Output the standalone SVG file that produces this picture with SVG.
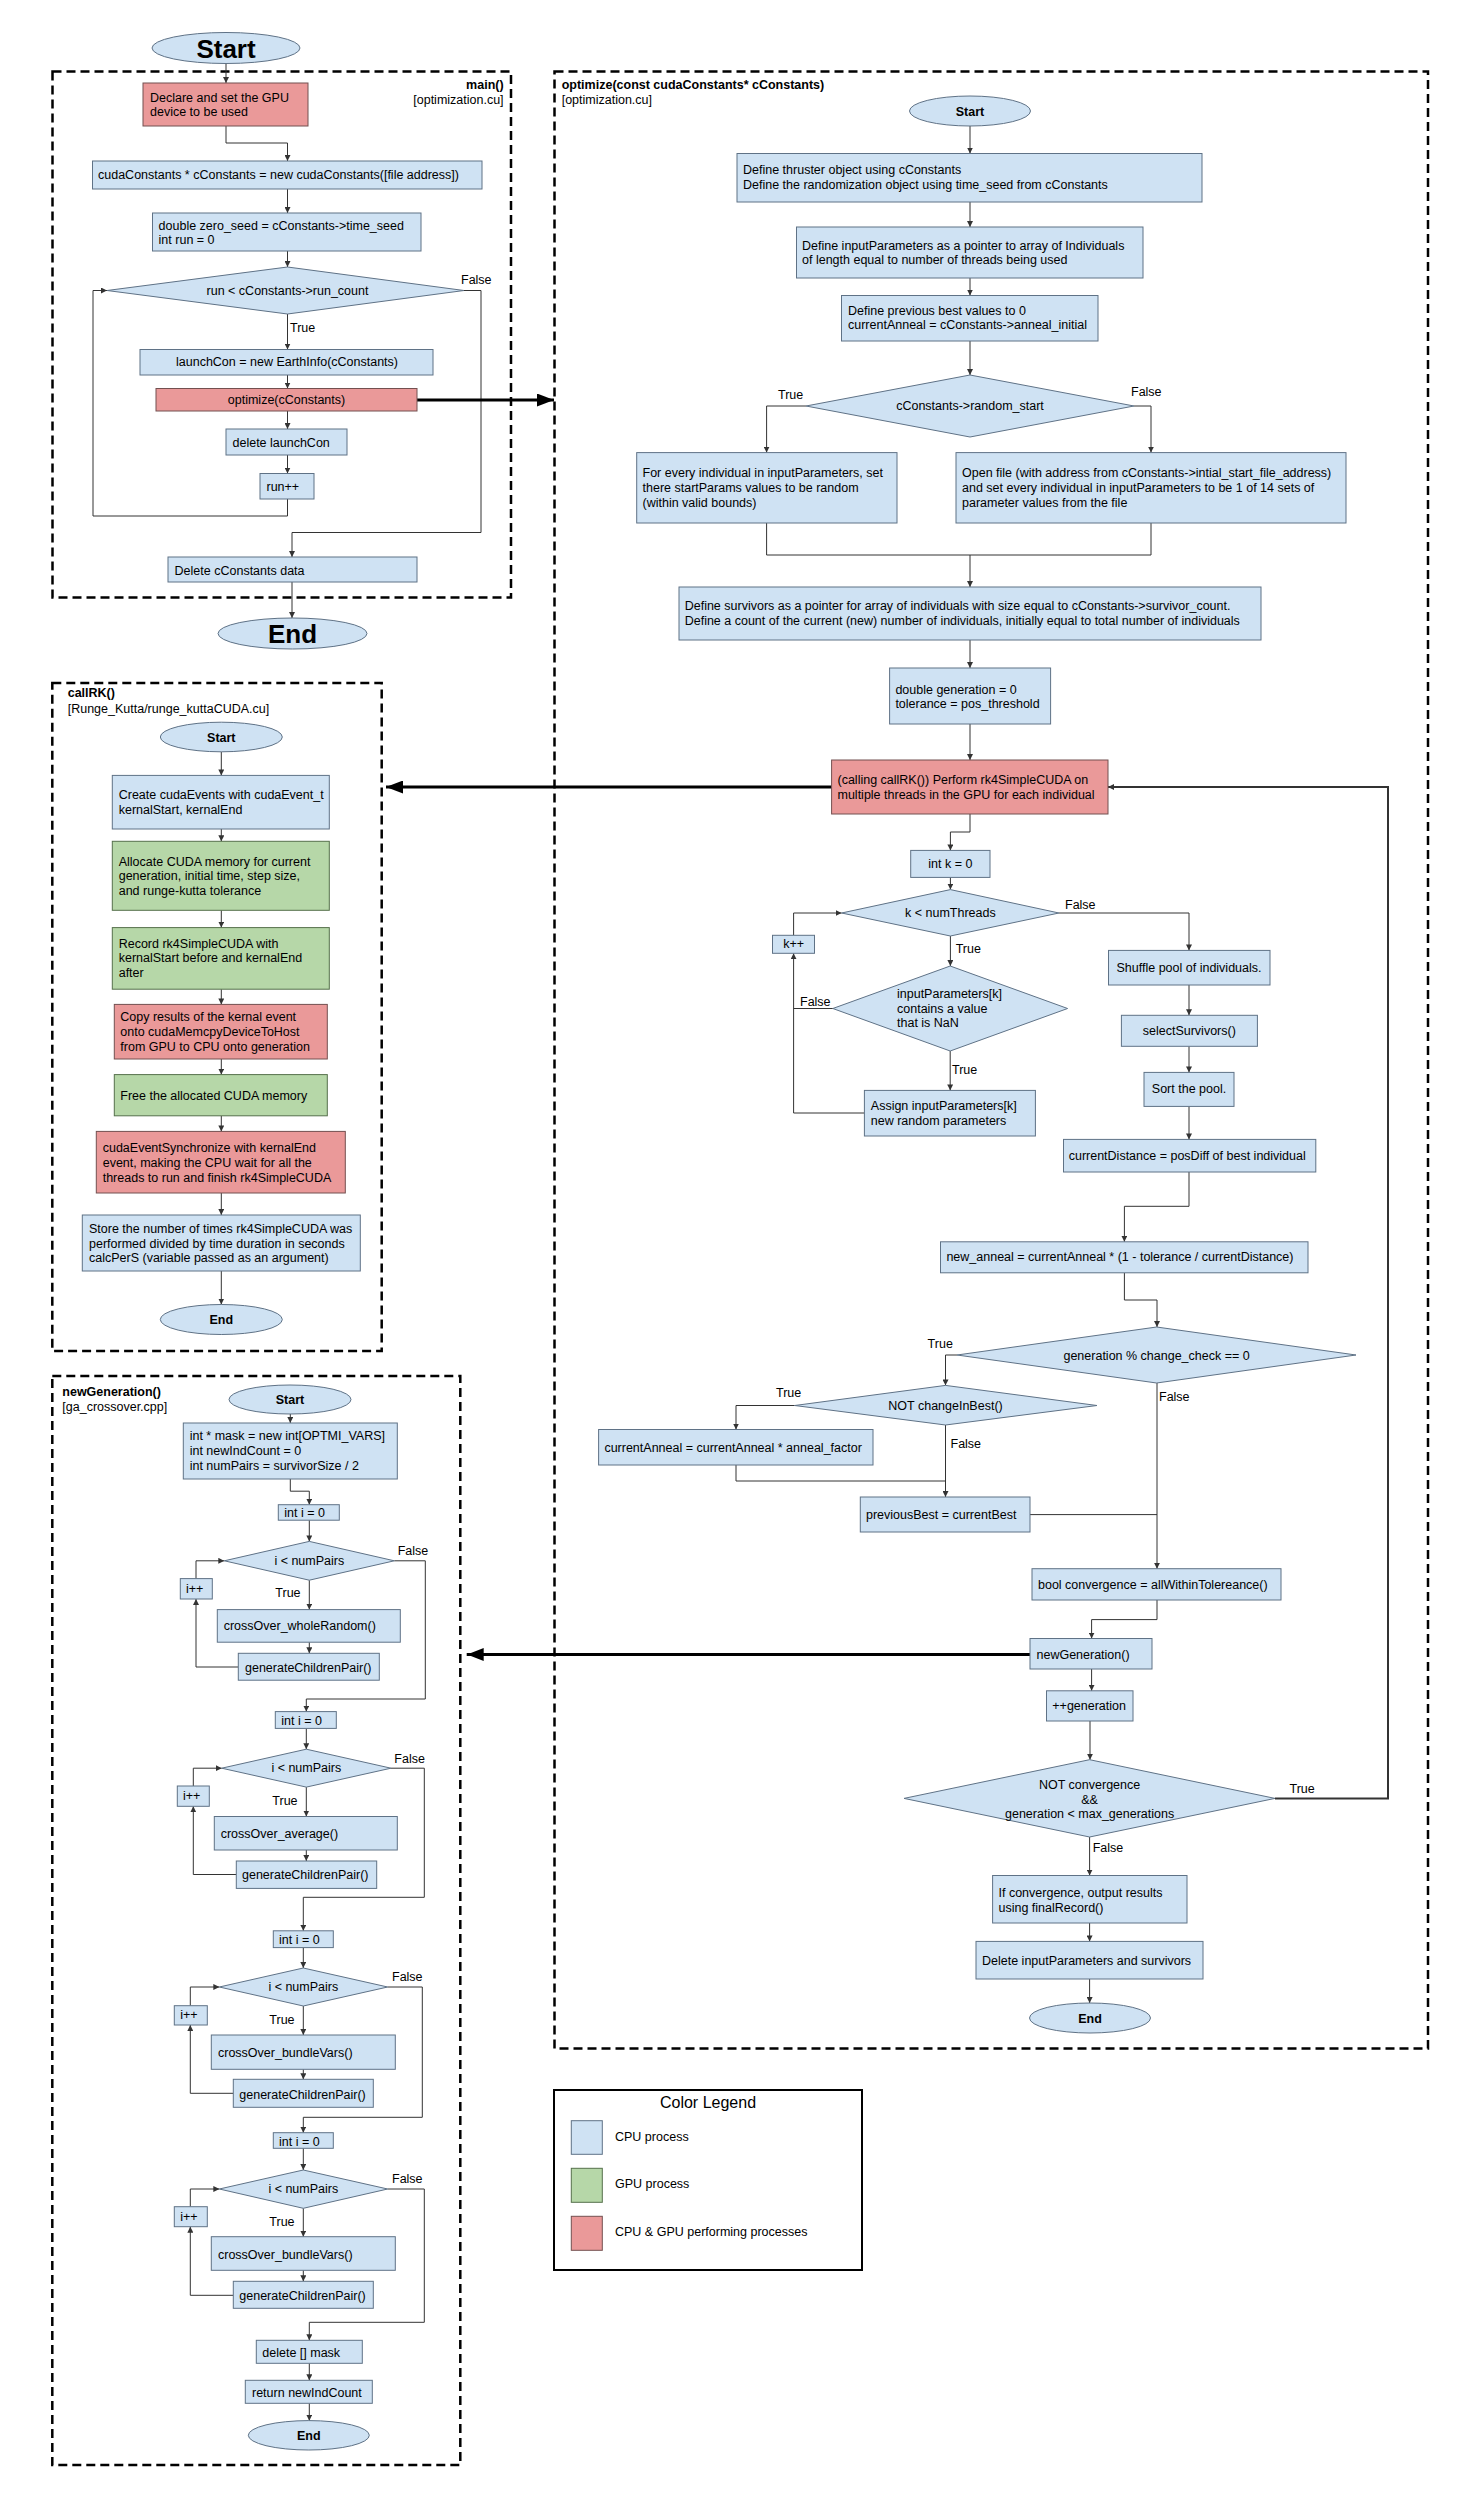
<svg xmlns="http://www.w3.org/2000/svg" width="1468" height="2500" viewBox="0 0 1468 2500">
<defs>
<style>
.cpu{fill:#cfe2f3;stroke:#5f7286;stroke-width:1}
.gpu{fill:#b6d7a8;stroke:#56704c;stroke-width:1}
.both{fill:#ea9999;stroke:#735050;stroke-width:1}
.frame{fill:none;stroke:#000;stroke-width:2.5;stroke-dasharray:9 5}
.c{fill:none;stroke:#333;stroke-width:1}
.thick{fill:none;stroke:#000;stroke-width:3}
text{font-family:"Liberation Sans",Arial,sans-serif;font-size:12.5px;fill:#000}
.m{text-anchor:middle}
.e{text-anchor:end}
.b{font-weight:bold}
.big{font-size:26px;font-weight:bold}
.lg{font-size:16px}
</style>
<marker id="a" markerUnits="userSpaceOnUse" markerWidth="6" markerHeight="6" refX="6" refY="3" orient="auto"><path d="M0,0 L6,3 L0,6 z" fill="#333"/></marker>
<marker id="A" markerUnits="userSpaceOnUse" markerWidth="17" markerHeight="13" refX="17" refY="6.5" orient="auto"><path d="M0,0 L17,6.5 L0,13 z" fill="#000"/></marker>
</defs>
<rect width="1468" height="2500" fill="#fff"/>

<!-- containers -->
<g id="main_frame">
<rect class="frame" x="52.5" y="71.5" width="458.5" height="526"/>
<text class="b e" x="503.6" y="89">main()</text>
<text class="e" x="503.6" y="104">[optimization.cu]</text>
</g>
<g id="optimize_frame">
<rect class="frame" x="554.5" y="71.5" width="873.5" height="1977"/>
<text class="b" x="561.7" y="89.4">optimize(const cudaConstants* cConstants)</text>
<text x="561.7" y="104">[optimization.cu]</text>
</g>
<g id="callRK_frame">
<rect class="frame" x="52.3" y="683" width="329.4" height="668"/>
<text class="b" x="67.7" y="697.3">callRK()</text>
<text x="67.7" y="712.5">[Runge_Kutta/runge_kuttaCUDA.cu]</text>
</g>
<g id="newGeneration_frame">
<rect class="frame" x="52.3" y="1376" width="408" height="1089"/>
<text class="b" x="62.3" y="1396">newGeneration()</text>
<text x="62.3" y="1410.8">[ga_crossover.cpp]</text>
</g>

<!-- connectors -->
<g id="connectors">
<path class="c" marker-end="url(#a)" d="M226,63 V83"/>
<path class="c" marker-end="url(#a)" d="M226,126 V143 H287.5 V161"/>
<path class="c" marker-end="url(#a)" d="M287.5,189 V213"/>
<path class="c" marker-end="url(#a)" d="M287.5,251 V267"/>
<path class="c" marker-end="url(#a)" d="M287.5,314 V349.5"/>
<path class="c" marker-end="url(#a)" d="M287.5,375 V388.5"/>
<path class="c" marker-end="url(#a)" d="M287.5,411 V429"/>
<path class="c" marker-end="url(#a)" d="M287.5,455 V473.5"/>
<path class="c" marker-end="url(#a)" d="M287.5,499 V516 H93 V290.5 H107"/>
<path class="c" marker-end="url(#a)" d="M464,290.5 H481 V532.5 H292 V557"/>
<path class="c" marker-end="url(#a)" d="M292,582 V618"/>
<path class="thick" marker-end="url(#A)" d="M417,400 H554"/>
<text x="290" y="332">True</text>
<text x="461" y="284">False</text>

<path class="c" marker-end="url(#a)" d="M970,126 V153.5"/>
<path class="c" marker-end="url(#a)" d="M970,202 V227"/>
<path class="c" marker-end="url(#a)" d="M970,278 V295.5"/>
<path class="c" marker-end="url(#a)" d="M970,341 V375"/>
<path class="c" marker-end="url(#a)" d="M806,406 H766.6 V452.6"/>
<path class="c" marker-end="url(#a)" d="M1134,406 H1151 V452.6"/>
<path class="c" d="M766.6,523 V555 H1151 V523"/>
<path class="c" marker-end="url(#a)" d="M970,555 V587"/>
<path class="c" marker-end="url(#a)" d="M970,640 V668"/>
<path class="c" marker-end="url(#a)" d="M970,724 V760"/>
<path class="c" marker-end="url(#a)" d="M970,814 V832 H950.4 V850.4"/>
<path class="c" marker-end="url(#a)" d="M950.4,877.3 V889.6"/>
<path class="c" marker-end="url(#a)" d="M950.4,936 V966"/>
<path class="c" marker-end="url(#a)" d="M1059,913 H1189 V950.4"/>
<path class="c" marker-end="url(#a)" d="M793.6,935.3 V913 H841.6"/>
<path class="c" d="M832.8,1008.5 H793.6"/>
<path class="c" marker-end="url(#a)" d="M864.4,1113 H793.6 V953.3"/>
<path class="c" marker-end="url(#a)" d="M950.2,1051 V1090.4"/>
<path class="c" marker-end="url(#a)" d="M1189,985 V1015.3"/>
<path class="c" marker-end="url(#a)" d="M1189,1046.3 V1072.4"/>
<path class="c" marker-end="url(#a)" d="M1189,1106.3 V1139.4"/>
<path class="c" marker-end="url(#a)" d="M1189,1172 V1206.3 H1124.4 V1241.8"/>
<path class="c" marker-end="url(#a)" d="M1124.4,1273 V1300 H1157 V1327"/>
<path class="c" marker-end="url(#a)" d="M957,1355 H945.5 V1385.4"/>
<path class="c" marker-end="url(#a)" d="M1157,1383 V1568.7"/>
<path class="c" marker-end="url(#a)" d="M794.7,1405.5 H736 V1429.5"/>
<path class="c" marker-end="url(#a)" d="M945.5,1425 V1497"/>
<path class="c" d="M736,1465 V1481 H945.5"/>
<path class="c" d="M1030,1514.6 H1157"/>
<path class="c" marker-end="url(#a)" d="M1157,1600 V1619.6 H1091.6 V1638.5"/>
<path class="c" marker-end="url(#a)" d="M1091.6,1669 V1690.8"/>
<path class="c" marker-end="url(#a)" d="M1090,1721 V1759.7"/>
<path class="c" marker-end="url(#a)" d="M1089.6,1837 V1875.5"/>
<path class="c" marker-end="url(#a)" d="M1089.6,1923 V1941.4"/>
<path class="c" marker-end="url(#a)" d="M1089.6,1979 V2003"/>
<path class="c" style="stroke-width:2" marker-end="url(#a)" d="M1275,1798.4 H1388 V787 H1108"/>
<path class="thick" marker-end="url(#A)" d="M831.6,787 H386"/>
<path class="thick" marker-end="url(#A)" d="M1030,1654.5 H466.7"/>
<text x="778" y="399">True</text>
<text x="1131" y="395.5">False</text>
<text x="955.7" y="953">True</text>
<text x="1065" y="909">False</text>
<text x="800" y="1005.5">False</text>
<text x="952" y="1073.7">True</text>
<text x="927.6" y="1348">True</text>
<text x="1159" y="1401.4">False</text>
<text x="776" y="1396.6">True</text>
<text x="950.5" y="1448">False</text>
<text x="1289.5" y="1792.6">True</text>
<text x="1092.7" y="1852">False</text>

<path class="c" marker-end="url(#a)" d="M221.3,751.8 V775.4"/>
<path class="c" marker-end="url(#a)" d="M221.3,829 V841.3"/>
<path class="c" marker-end="url(#a)" d="M221.3,910.3 V927.6"/>
<path class="c" marker-end="url(#a)" d="M221.3,989.2 V1004.4"/>
<path class="c" marker-end="url(#a)" d="M221.3,1059 V1074.6"/>
<path class="c" marker-end="url(#a)" d="M221.3,1115.8 V1131.4"/>
<path class="c" marker-end="url(#a)" d="M221.3,1193 V1215"/>
<path class="c" marker-end="url(#a)" d="M221.3,1271 V1304.5"/>

<path class="c" marker-end="url(#a)" d="M290.3,1414 V1423"/>
<path class="c" marker-end="url(#a)" d="M290.3,1479 V1491.2 H309.3 V1504.7"/>
<path class="c" marker-end="url(#a)" d="M309.3,1520.2 V1541.4"/>
<path class="c" marker-end="url(#a)" d="M309.3,1580.2 V1609.6"/>
<path class="c" marker-end="url(#a)" d="M309.3,1642.2 V1653.3"/>
<path class="c" marker-end="url(#a)" d="M238.3,1667 H196 V1599"/>
<path class="c" marker-end="url(#a)" d="M196,1578.6 V1560.8 H224.3"/>
<path class="c" marker-end="url(#a)" d="M394.3,1560.8 H425.3 V1699 H306.3 V1711.6"/>
<path class="c" marker-end="url(#a)" d="M306.3,1728.4 V1749.2"/>
<path class="c" marker-end="url(#a)" d="M306.3,1787.1 V1816.5"/>
<path class="c" marker-end="url(#a)" d="M306.3,1850 V1861"/>
<path class="c" marker-end="url(#a)" d="M236.3,1874.5 H193.3 V1806.3"/>
<path class="c" marker-end="url(#a)" d="M193.3,1786 V1768.2 H221.7"/>
<path class="c" marker-end="url(#a)" d="M391,1768.2 H424.3 V1897.3 H303.3 V1930.8"/>
<path class="c" marker-end="url(#a)" d="M303.3,1947.6 V1968"/>
<path class="c" marker-end="url(#a)" d="M303.3,2006 V2035"/>
<path class="c" marker-end="url(#a)" d="M303.3,2069.3 V2079.3"/>
<path class="c" marker-end="url(#a)" d="M233.3,2093.3 H190.3 V2025"/>
<path class="c" marker-end="url(#a)" d="M190.3,2005.7 V1987 H219.3"/>
<path class="c" marker-end="url(#a)" d="M387.7,1987 H422.3 V2117.3 H303.3 V2132.7"/>
<path class="c" marker-end="url(#a)" d="M303.3,2148.3 V2170"/>
<path class="c" marker-end="url(#a)" d="M303.3,2208.3 V2236.7"/>
<path class="c" marker-end="url(#a)" d="M303.3,2270.3 V2281.3"/>
<path class="c" marker-end="url(#a)" d="M233.3,2295.3 H190.3 V2226.7"/>
<path class="c" marker-end="url(#a)" d="M190.3,2206.7 V2189 H219.3"/>
<path class="c" marker-end="url(#a)" d="M387.7,2189 H424.3 V2322.3 H309.3 V2340.3"/>
<path class="c" marker-end="url(#a)" d="M309.3,2363.3 V2380.3"/>
<path class="c" marker-end="url(#a)" d="M309.3,2403.3 V2420.7"/>
<text x="275.3" y="1597.3">True</text>
<text x="397.7" y="1555">False</text>
<text x="272.3" y="1804.7">True</text>
<text x="394.3" y="1762.7">False</text>
<text x="269.3" y="2024">True</text>
<text x="392" y="1981">False</text>
<text x="269.3" y="2225.7">True</text>
<text x="392" y="2183.3">False</text>
</g>

<!-- main() nodes -->
<g id="main_start"><ellipse class="cpu" cx="226" cy="48" rx="74" ry="15.5"/><text class="big m" x="226" y="57.5">Start</text></g>
<g id="main_gpu"><rect class="both" x="143" y="83" width="165" height="43"/><text x="150" y="102">Declare and set the GPU</text><text x="150" y="116">device to be used</text></g>
<g id="main_cconst"><rect class="cpu" x="92.5" y="161" width="389.5" height="28"/><text x="98" y="178.7">cudaConstants * cConstants = new cudaConstants([file address])</text></g>
<g id="main_seed"><rect class="cpu" x="152.5" y="213" width="268.5" height="38"/><text x="158.6" y="230">double zero_seed = cConstants-&gt;time_seed</text><text x="158.6" y="244">int run = 0</text></g>
<g id="main_loop"><polygon class="cpu" points="287.5,267 464,290.5 287.5,314 107,290.5"/><text class="m" x="287.5" y="295">run &lt; cConstants-&gt;run_count</text></g>
<g id="main_launch"><rect class="cpu" x="140" y="349.5" width="293" height="25.5"/><text class="m" x="287" y="366">launchCon = new EarthInfo(cConstants)</text></g>
<g id="main_optimize"><rect class="both" x="156" y="388.5" width="261" height="22.5"/><text class="m" x="286.5" y="404">optimize(cConstants)</text></g>
<g id="main_delete"><rect class="cpu" x="226" y="429" width="121" height="26"/><text x="232.5" y="446.5">delete launchCon</text></g>
<g id="main_runpp"><rect class="cpu" x="260" y="473.5" width="54" height="25.5"/><text x="266.5" y="491">run++</text></g>
<g id="main_delc"><rect class="cpu" x="168" y="557" width="249" height="25"/><text x="174.6" y="574.5">Delete cConstants data</text></g>
<g id="main_end"><ellipse class="cpu" cx="292.5" cy="633.5" rx="74.5" ry="15.5"/><text class="big m" x="292.5" y="643">End</text></g>

<!-- optimize() nodes -->
<g id="opt_start"><ellipse class="cpu" cx="970" cy="111" rx="60.5" ry="15"/><text class="b m" x="970" y="115.5">Start</text></g>
<g id="opt_thruster"><rect class="cpu" x="737" y="153.5" width="465" height="48.5"/><text x="743" y="174">Define thruster object using cConstants</text><text x="743" y="189">Define the randomization object using time_seed from cConstants</text></g>
<g id="opt_input"><rect class="cpu" x="796.5" y="227" width="346.5" height="51"/><text x="802" y="250">Define inputParameters as a pointer to array of Individuals</text><text x="802" y="264">of length equal to number of threads being used</text></g>
<g id="opt_prev"><rect class="cpu" x="841.5" y="295.5" width="256.5" height="45.5"/><text x="848" y="315">Define previous best values to 0</text><text x="848" y="329.4">currentAnneal = cConstants-&gt;anneal_initial</text></g>
<g id="opt_random"><polygon class="cpu" points="970,375 1134,406 970,437 806,406"/><text class="m" x="970" y="410">cConstants-&gt;random_start</text></g>
<g id="opt_rand_true"><rect class="cpu" x="636.7" y="452.6" width="260.3" height="70.4"/><text x="642.5" y="477">For every individual in inputParameters, set</text><text x="642.5" y="492">there startParams values to be random</text><text x="642.5" y="506.5">(within valid bounds)</text></g>
<g id="opt_rand_false"><rect class="cpu" x="956" y="452.6" width="390" height="70.4"/><text x="962" y="477">Open file (with address from cConstants-&gt;intial_start_file_address)</text><text x="962" y="492">and set every individual in inputParameters to be 1 of 14 sets of</text><text x="962" y="506.5">parameter values from the file</text></g>
<g id="opt_survivors"><rect class="cpu" x="679" y="587" width="582" height="53"/><text x="684.7" y="610">Define survivors as a pointer for array of individuals with size equal to cConstants-&gt;survivor_count.</text><text x="684.7" y="625">Define a count of the current (new) number of individuals, initially equal to total number of individuals</text></g>
<g id="opt_gen"><rect class="cpu" x="889.6" y="668" width="161" height="56"/><text x="895.4" y="694">double generation = 0</text><text x="895.4" y="708">tolerance = pos_threshold</text></g>
<g id="opt_callrk"><rect class="both" x="831.6" y="760" width="276.4" height="54"/><text x="837.5" y="784">(calling callRK()) Perform rk4SimpleCUDA on</text><text x="837.5" y="798.6">multiple threads in the GPU for each individual</text></g>
<g id="opt_k0"><rect class="cpu" x="910.7" y="850.4" width="79.3" height="27"/><text class="m" x="950.4" y="868.4">int k = 0</text></g>
<g id="opt_kloop"><polygon class="cpu" points="950.4,889.6 1059,913 950.4,936 841.6,913"/><text class="m" x="950.4" y="917">k &lt; numThreads</text></g>
<g id="opt_kpp"><rect class="cpu" x="772.5" y="935.3" width="42" height="18"/><text class="m" x="793.6" y="948">k++</text></g>
<g id="opt_nan"><polygon class="cpu" points="950.2,966 1067.6,1008.5 950.2,1051 832.8,1008.5"/><text x="897" y="998">inputParameters[k]</text><text x="897" y="1012.5">contains a value</text><text x="897" y="1027">that is NaN</text></g>
<g id="opt_assign"><rect class="cpu" x="864.4" y="1090.4" width="171" height="45.6"/><text x="870.8" y="1110.4">Assign inputParameters[k]</text><text x="870.8" y="1125">new random parameters</text></g>
<g id="opt_shuffle"><rect class="cpu" x="1108.5" y="950.4" width="161.5" height="34.6"/><text class="m" x="1189" y="972.4">Shuffle pool of individuals.</text></g>
<g id="opt_select"><rect class="cpu" x="1121.4" y="1015.3" width="136" height="31"/><text class="m" x="1189.3" y="1035">selectSurvivors()</text></g>
<g id="opt_sort"><rect class="cpu" x="1144" y="1072.4" width="90" height="34"/><text class="m" x="1189" y="1093">Sort the pool.</text></g>
<g id="opt_dist"><rect class="cpu" x="1063.5" y="1139.4" width="252.3" height="32.6"/><text x="1068.7" y="1160">currentDistance = posDiff of best individual</text></g>
<g id="opt_anneal"><rect class="cpu" x="940.5" y="1241.8" width="367.5" height="31"/><text x="946.4" y="1261.4">new_anneal = currentAnneal * (1 - tolerance / currentDistance)</text></g>
<g id="opt_check"><polygon class="cpu" points="1156.6,1327 1356,1355 1156.6,1383 957,1355"/><text class="m" x="1156.6" y="1360">generation % change_check == 0</text></g>
<g id="opt_change"><polygon class="cpu" points="945.5,1385.4 1097,1405.5 945.5,1425 794.7,1405.5"/><text class="m" x="945.5" y="1410">NOT changeInBest()</text></g>
<g id="opt_factor"><rect class="cpu" x="598.6" y="1429.5" width="274.4" height="35.5"/><text x="604.4" y="1452.3">currentAnneal = currentAnneal * anneal_factor</text></g>
<g id="opt_prevbest"><rect class="cpu" x="860.3" y="1497" width="169.7" height="35"/><text x="866" y="1518.7">previousBest = currentBest</text></g>
<g id="opt_conv"><rect class="cpu" x="1032" y="1568.7" width="249" height="31.3"/><text x="1038" y="1589">bool convergence = allWithinTolereance()</text></g>
<g id="opt_newgen"><rect class="cpu" x="1030" y="1638.5" width="122" height="30.5"/><text x="1036.5" y="1659">newGeneration()</text></g>
<g id="opt_genpp"><rect class="cpu" x="1046.5" y="1690.8" width="86.5" height="30.2"/><text x="1052.3" y="1710">++generation</text></g>
<g id="opt_loop"><polygon class="cpu" points="1089.6,1759.7 1275,1798.4 1089.6,1837 904,1798.4"/><text class="m" x="1089.6" y="1789">NOT convergence</text><text class="m" x="1089.6" y="1803.7">&amp;&amp;</text><text class="m" x="1089.6" y="1818.3">generation &lt; max_generations</text></g>
<g id="opt_final"><rect class="cpu" x="992.6" y="1875.5" width="194.4" height="47.5"/><text x="998.5" y="1896.8">If convergence, output results</text><text x="998.5" y="1912">using finalRecord()</text></g>
<g id="opt_delete"><rect class="cpu" x="976" y="1941.4" width="227" height="37.6"/><text x="982" y="1964.7">Delete inputParameters and survivors</text></g>
<g id="opt_end"><ellipse class="cpu" cx="1090" cy="2018" rx="60.5" ry="15"/><text class="b m" x="1090" y="2022.5">End</text></g>

<!-- callRK() nodes -->
<g id="rk_start"><ellipse class="cpu" cx="221.3" cy="737" rx="61" ry="14.8"/><text class="b m" x="221.3" y="741.5">Start</text></g>
<g id="rk_events"><rect class="cpu" x="112.3" y="775.4" width="217" height="53.6"/><text x="118.7" y="799.3">Create cudaEvents with cudaEvent_t</text><text x="118.7" y="814.4">kernalStart, kernalEnd</text></g>
<g id="rk_alloc"><rect class="gpu" x="112.3" y="841.3" width="217" height="69"/><text x="118.7" y="865.6">Allocate CUDA memory for current</text><text x="118.7" y="880.3">generation, initial time, step size,</text><text x="118.7" y="895">and runge-kutta tolerance</text></g>
<g id="rk_record"><rect class="gpu" x="112.3" y="927.6" width="217" height="61.6"/><text x="118.7" y="947.6">Record rk4SimpleCUDA with</text><text x="118.7" y="962.3">kernalStart before and kernalEnd</text><text x="118.7" y="977">after</text></g>
<g id="rk_copy"><rect class="both" x="114.3" y="1004.4" width="213" height="54.6"/><text x="120.3" y="1021.3">Copy results of the kernal event</text><text x="120.3" y="1036">onto cudaMemcpyDeviceToHost</text><text x="120.3" y="1050.8">from GPU to CPU onto generation</text></g>
<g id="rk_free"><rect class="gpu" x="114.3" y="1074.6" width="213" height="41.2"/><text x="120.3" y="1100.2">Free the allocated CUDA memory</text></g>
<g id="rk_sync"><rect class="both" x="96.3" y="1131.4" width="249" height="61.6"/><text x="102.7" y="1152.2">cudaEventSynchronize with kernalEnd</text><text x="102.7" y="1167">event, making the CPU wait for all the</text><text x="102.7" y="1181.7">threads to run and finish rk4SimpleCUDA</text></g>
<g id="rk_store"><rect class="cpu" x="82.3" y="1215" width="278" height="56"/><text x="89" y="1233">Store the number of times rk4SimpleCUDA was</text><text x="89" y="1247.7">performed divided by time duration in seconds</text><text x="89" y="1262.4">calcPerS (variable passed as an argument)</text></g>
<g id="rk_end"><ellipse class="cpu" cx="221.3" cy="1319.5" rx="61" ry="15"/><text class="b m" x="221.3" y="1324">End</text></g>

<!-- newGeneration() nodes -->
<g id="ng_start"><ellipse class="cpu" cx="290" cy="1399.5" rx="61" ry="14.5"/><text class="b m" x="290" y="1404">Start</text></g>
<g id="ng_init"><rect class="cpu" x="183.3" y="1423" width="214" height="56"/><text x="189.7" y="1440.2">int * mask = new int[OPTMI_VARS]</text><text x="189.7" y="1455">int newIndCount = 0</text><text x="189.7" y="1469.6">int numPairs = survivorSize / 2</text></g>
<g id="ng_i1"><rect class="cpu" x="278.3" y="1504.7" width="61" height="15.5"/><text x="284.3" y="1517">int i = 0</text></g>
<g id="ng_d1"><polygon class="cpu" points="309.3,1541.4 394.3,1560.8 309.3,1580.2 224.3,1560.8"/><text class="m" x="309.3" y="1565">i &lt; numPairs</text></g>
<g id="ng_pp1"><rect class="cpu" x="180.3" y="1578.6" width="32" height="20.4"/><text x="186" y="1592.9">i++</text></g>
<g id="ng_co1"><rect class="cpu" x="217.3" y="1609.6" width="183" height="32.6"/><text x="223.7" y="1630.4">crossOver_wholeRandom()</text></g>
<g id="ng_gc1"><rect class="cpu" x="238.3" y="1653.3" width="141" height="26.9"/><text x="245" y="1672">generateChildrenPair()</text></g>
<g id="ng_i2"><rect class="cpu" x="275.3" y="1711.6" width="61" height="16.8"/><text x="281.3" y="1724.7">int i = 0</text></g>
<g id="ng_d2"><polygon class="cpu" points="306.3,1749.2 391,1768.2 306.3,1787.1 221.7,1768.2"/><text class="m" x="306.3" y="1772">i &lt; numPairs</text></g>
<g id="ng_pp2"><rect class="cpu" x="177.3" y="1786" width="32" height="20.3"/><text x="183" y="1800.2">i++</text></g>
<g id="ng_co2"><rect class="cpu" x="214.3" y="1816.5" width="183" height="33.5"/><text x="220.7" y="1837.8">crossOver_average()</text></g>
<g id="ng_gc2"><rect class="cpu" x="236.3" y="1861" width="140.4" height="27.4"/><text x="242" y="1879.4">generateChildrenPair()</text></g>
<g id="ng_i3"><rect class="cpu" x="273.3" y="1930.8" width="60" height="16.8"/><text x="279" y="1943.5">int i = 0</text></g>
<g id="ng_d3"><polygon class="cpu" points="303.3,1968 387.7,1987 303.3,2006 219.3,1987"/><text class="m" x="303.3" y="1991">i &lt; numPairs</text></g>
<g id="ng_pp3"><rect class="cpu" x="174.3" y="2005.7" width="33" height="19.3"/><text x="180.3" y="2019">i++</text></g>
<g id="ng_co3"><rect class="cpu" x="211.3" y="2035" width="184" height="34.3"/><text x="218" y="2056.7">crossOver_bundleVars()</text></g>
<g id="ng_gc3"><rect class="cpu" x="233.3" y="2079.3" width="140" height="28"/><text x="239.3" y="2098.7">generateChildrenPair()</text></g>
<g id="ng_i4"><rect class="cpu" x="273.3" y="2132.7" width="60" height="15.6"/><text x="279" y="2145.7">int i = 0</text></g>
<g id="ng_d4"><polygon class="cpu" points="303.3,2170 387.7,2189 303.3,2208.3 219.3,2189"/><text class="m" x="303.3" y="2193.3">i &lt; numPairs</text></g>
<g id="ng_pp4"><rect class="cpu" x="174.3" y="2206.7" width="33" height="20"/><text x="180.3" y="2220.7">i++</text></g>
<g id="ng_co4"><rect class="cpu" x="211.3" y="2236.7" width="184" height="33.6"/><text x="218" y="2258.7">crossOver_bundleVars()</text></g>
<g id="ng_gc4"><rect class="cpu" x="233.3" y="2281.3" width="140" height="27"/><text x="239.3" y="2300">generateChildrenPair()</text></g>
<g id="ng_delete"><rect class="cpu" x="256.3" y="2340.3" width="106" height="23"/><text x="262.3" y="2356.7">delete [] mask</text></g>
<g id="ng_return"><rect class="cpu" x="245.3" y="2380.3" width="127" height="23"/><text x="252" y="2396.7">return newIndCount</text></g>
<g id="ng_end"><ellipse class="cpu" cx="308.8" cy="2435.3" rx="60.5" ry="14.7"/><text class="b m" x="308.8" y="2439.8">End</text></g>

<!-- legend -->
<g id="legend">
<rect x="554" y="2090" width="308" height="180" fill="#fff" stroke="#000" stroke-width="2"/>
<text class="lg m" x="708" y="2108.3">Color Legend</text>
<rect class="cpu" x="571.3" y="2120.7" width="31" height="33.6"/>
<text x="615" y="2140.7">CPU process</text>
<rect class="gpu" x="571.3" y="2168.3" width="31" height="34"/>
<text x="615" y="2188.3">GPU process</text>
<rect class="both" x="571.3" y="2216.3" width="31" height="34"/>
<text x="615" y="2236">CPU &amp; GPU performing processes</text>
</g>
</svg>
